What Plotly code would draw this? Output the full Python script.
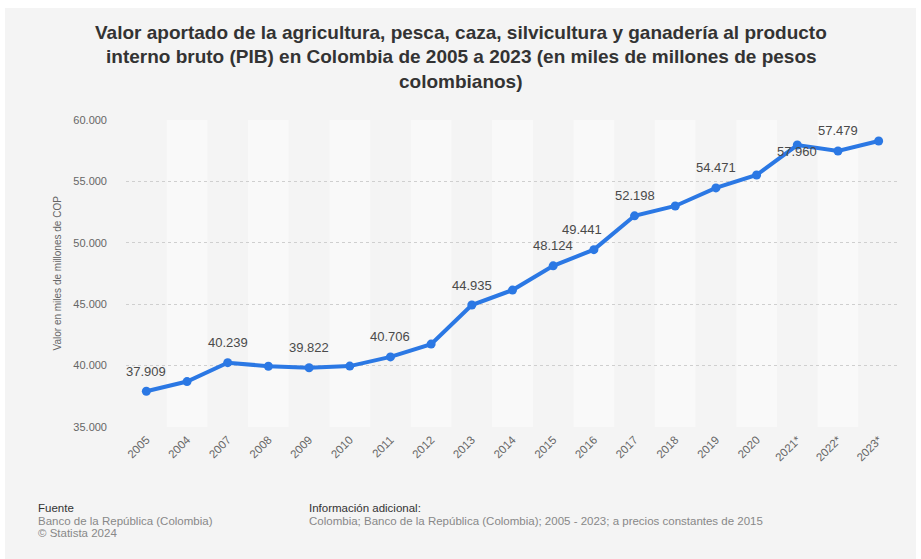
import plotly.graph_objects as go

categories = ["2005", "2004", "2007", "2008", "2009", "2010", "2011", "2012", "2013", "2014",
              "2015", "2016", "2017", "2018", "2019", "2020", "2021*", "2022*", "2023*"]
values = [37909, 38700, 40239, 39950, 39822, 39960, 40706, 41750, 44935, 46150,
          48124, 49441, 52198, 53000, 54471, 55520, 57960, 57479, 58290]
labeled = [True, False, True, False, True, False, True, False, True, False,
           True, True, True, False, True, False, True, True, False]
y_ticks = [35000, 40000, 45000, 50000, 55000, 60000]

title_lines = [
    "Valor aportado de la agricultura, pesca, caza, silvicultura y ganadería al producto",
    "interno bruto (PIB) en Colombia de 2005 a 2023 (en miles de millones de pesos",
    "colombianos)",
]

W, H = 921, 559
L, R, T, B = 126, 899, 120, 427


def px(x):
    return (x - L) / (R - L)


def py(y):
    return (B - y) / (B - T)


def fmt(v):
    return f"{v:,}".replace(",", ".")


BLUE = "#2b78e4"
FONT = "Liberation Sans, Arial, sans-serif"

idx = list(range(len(categories)))

fig = go.Figure()
fig.add_trace(go.Scatter(
    x=idx, y=values, mode="lines+markers",
    line=dict(color=BLUE, width=4),
    marker=dict(color=BLUE, size=9),
    hoverinfo="skip", showlegend=False,
))

shapes = []
# outer gray panel
shapes.append(dict(type="rect", xref="paper", yref="paper", x0=px(5), x1=px(916), y0=py(H + 5), y1=py(8),
                   fillcolor="#f4f4f4", line=dict(width=0), layer="below"))
for i in idx:
    if i % 2 == 1:
        shapes.append(dict(type="rect", xref="x", yref="paper", x0=i - 0.5, x1=i + 0.5, y0=0, y1=1,
                           fillcolor="#f9f9f9", line=dict(width=0), layer="below"))

annotations = []
for i, v, lab in zip(idx, values, labeled):
    if not lab:
        continue
    xs, ys = 0, 20
    if categories[i] == "2021*":
        ys = -6
    if categories[i] == "2016":
        xs = -12
    annotations.append(dict(x=i, y=v, xref="x", yref="y", text=fmt(v), showarrow=False,
                            xshift=xs, yshift=ys, font=dict(family=FONT, size=13, color="#4a4a4a")))

for k, line in enumerate(title_lines):
    annotations.append(dict(x=px(461), xref="paper", y=py(32 + 25 * k), yref="paper", text=f"<b>{line}</b>",
                            showarrow=False, xanchor="center", yanchor="middle",
                            font=dict(family=FONT, size=19, color="#333")))

annotations.append(dict(x=px(57), y=0.5, xref="paper", yref="paper", text="Valor en miles de millones de COP",
                        textangle=-90, showarrow=False, xanchor="center", yanchor="middle",
                        font=dict(family=FONT, size=10, color="#666")))

foot = [
    (36, 508, "Fuente", "#333"),
    (36, 521, "Banco de la República (Colombia)", "#888"),
    (36, 533, "© Statista 2024", "#888"),
    (307, 508, "Información adicional:", "#333"),
    (307, 521, "Colombia; Banco de la República (Colombia); 2005 - 2023; a precios constantes de 2015", "#888"),
]
for x, y, t, col in foot:
    annotations.append(dict(x=px(x), y=py(y), xref="paper", yref="paper", text=t, showarrow=False,
                            xanchor="left", yanchor="middle", font=dict(family=FONT, size=11.5, color=col)))

fig.update_layout(
    width=W, height=H,
    margin=dict(l=L, r=W - R, t=T, b=H - B, pad=0),
    paper_bgcolor="white", plot_bgcolor="#f4f4f4",
    shapes=shapes, annotations=annotations,
    xaxis=dict(range=[-0.5, len(categories) - 0.5], tickvals=idx, ticktext=categories,
               showgrid=False, zeroline=False,
               tickangle=-45, tickfont=dict(family=FONT, size=11.5, color="#666"), ticks="", showline=False,
               ticklabelstandoff=3, fixedrange=True),
    yaxis=dict(range=[35000, 60000], tickvals=y_ticks, ticktext=[fmt(v) for v in y_ticks],
               showgrid=True, gridcolor="#cfcfcf", griddash="dot", gridwidth=1, zeroline=False,
               tickfont=dict(family=FONT, size=11, color="#666"), ticks="", ticklabelstandoff=18,
               fixedrange=True),
)

fig.write_html("out.html", config={"displayModeBar": False})
